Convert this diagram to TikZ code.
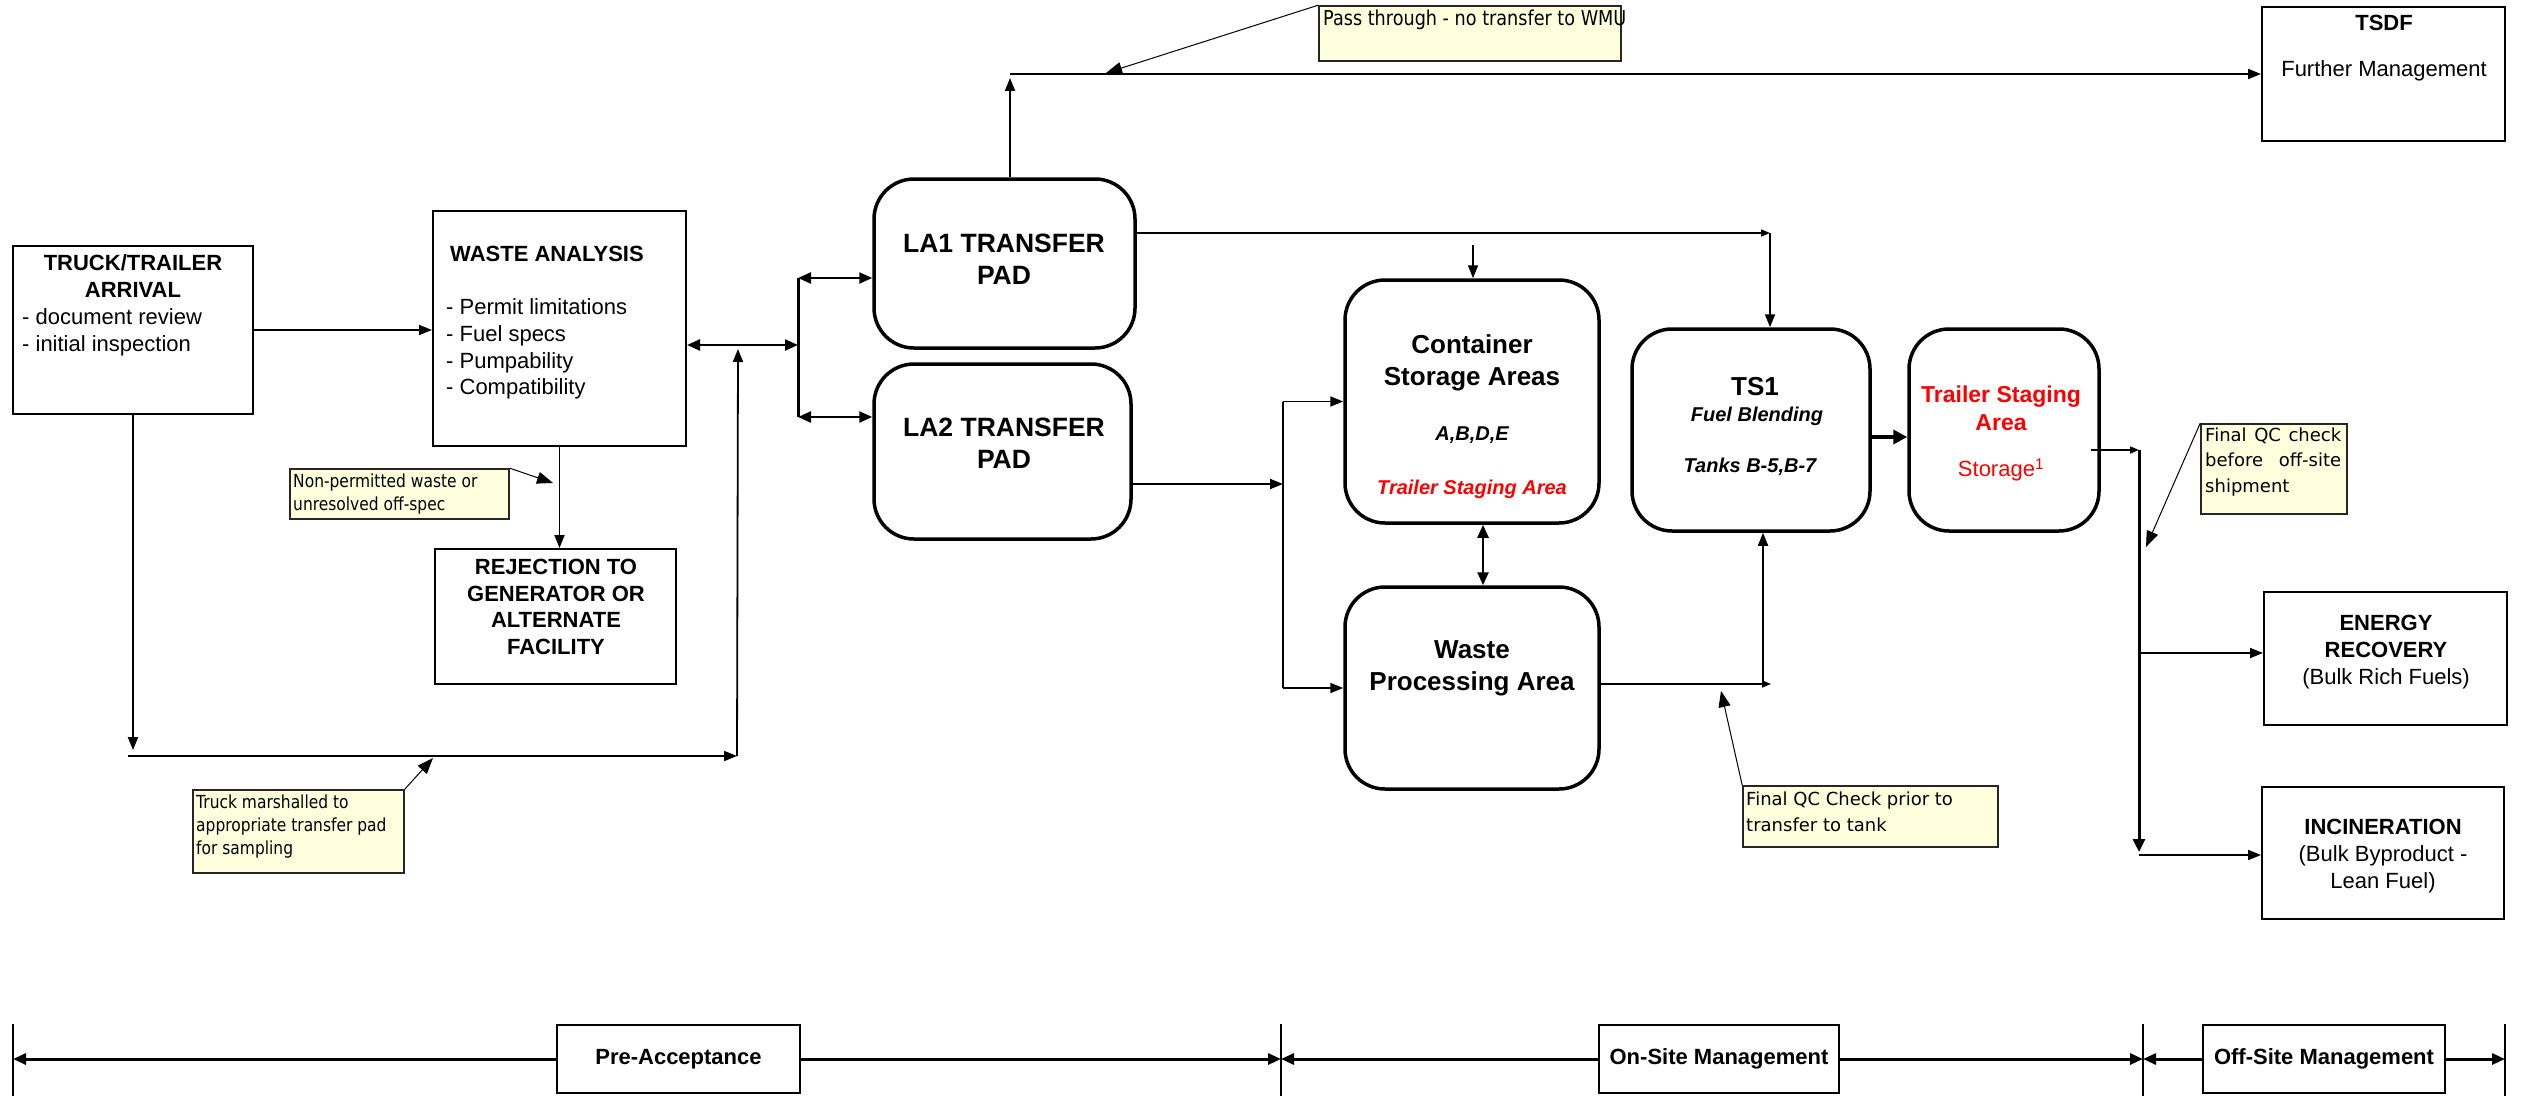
\documentclass[tikz,border=0pt]{standalone}
\usepackage{fontspec}
\setmainfont{Liberation Sans}
\newfontfamily\notefont{DejaVu Sans}
\newfontfamily\notecond[FakeStretch=0.86]{DejaVu Sans}
\usetikzlibrary{arrows.meta,calc}
\definecolor{notebg}{RGB}{255,255,221}
\tikzset{
  rbox/.style={draw, line width=3.5pt, rounded corners=40pt, inner sep=0pt},
  sbox/.style={draw, line width=2pt, inner sep=0pt},
  notebox/.style={draw=black!85, line width=1.6pt, fill=notebg, inner sep=0pt},
  conn/.style={line width=1.8pt, -{Triangle[length=13pt,width=10pt]}},
  dconn/.style={line width=2.4pt, {Triangle[length=13pt,width=11pt]}-{Triangle[length=13pt,width=11pt]}},
  sconn/.style={line width=1.5pt, -{Triangle[length=9pt,width=7pt]}},
  tconn/.style={line width=3.5pt, -{Triangle[length=14pt,width=14pt]}},
  busline/.style={line width=3pt},
  busconn/.style={line width=3pt, -{Triangle[length=13pt,width=12pt]}},
  callout/.style={line width=1pt, -{Triangle[length=16pt,width=12pt]}},
  bconn/.style={line width=3pt, -{Triangle[length=13pt,width=11pt]}},
  tick/.style={line width=2.5pt},
  txt/.style={inner sep=0pt, align=center},
  f22/.style={font=\fontsize{22}{26.7}\selectfont},
  f22b/.style={font=\fontsize{22}{26.7}\selectfont\bfseries},
  f25b/.style={font=\fontsize{26.5}{32}\selectfont\bfseries},
  f26b/.style={font=\fontsize{26}{32}\selectfont\bfseries},
  f20bi/.style={font=\fontsize{20}{24}\selectfont\bfseries\itshape},
  nfc/.style={font=\fontsize{18}{23}\selectfont\notecond, inner sep=0pt, align=left},
  nf/.style={font=\fontsize{18}{25.5}\selectfont\notefont, inner sep=0pt, align=left},
}
\begin{document}
\begin{tikzpicture}[x=1pt,y=-1pt]
\useasboundingbox (0,0) rectangle (2524,1097);

% ---------- boxes ----------
\node[sbox, minimum width=240pt, minimum height=168pt] (truck) at (133,330) {};
\node[sbox, minimum width=253pt, minimum height=235pt] (wa) at (559.5,328.5) {};
\node[sbox, minimum width=241pt, minimum height=135pt] (rej) at (555.5,616.5) {};
\node[rbox, minimum width=261pt, minimum height=169pt] (la1) at (1004.5,263.5) {};
\node[rbox, minimum width=257pt, minimum height=175pt] (la2) at (1002.5,451.5) {};
\node[rbox, minimum width=254pt, minimum height=243pt] (cont) at (1472,401.5) {};
\node[rbox, minimum width=254pt, minimum height=202pt] (wpa) at (1472,688) {};
\node[rbox, minimum width=238pt, minimum height=202pt] (ts1) at (1751,430) {};
\node[rbox, minimum width=190pt, minimum height=202pt] (trailer) at (2004,430) {};
\node[sbox, minimum width=243pt, minimum height=134pt] (tsdf) at (2383.5,74) {};
\node[sbox, minimum width=243pt, minimum height=133pt] (energy) at (2385.5,658.5) {};
\node[sbox, minimum width=242pt, minimum height=132pt] (incin) at (2383,853) {};

% ---------- box texts ----------
\node[txt, f22b] at (133,276) {TRUCK/TRAILER\\ARRIVAL};
\node[txt, f22, anchor=west, align=left] at (22,332) {- document review\\- initial inspection};
\node[txt, f22b, anchor=west] at (450,254) {WASTE ANALYSIS};
\node[txt, f22, anchor=west, align=left] at (446,349) {- Permit limitations\\- Fuel specs\\- Pumpability\\- Compatibility};
\node[txt, f22b] at (556,607) {REJECTION TO\\GENERATOR OR\\ALTERNATE\\FACILITY};
\node[txt, f25b] at (1004,259) {LA1 TRANSFER\\PAD};
\node[txt, f25b] at (1004,443) {LA2 TRANSFER\\PAD};
\node[txt, f26b] at (1472,363) {Container\\Storage Areas};
\node[txt, f20bi] at (1472,435) {A,B,D,E};
\node[txt, f20bi, text=red] at (1472,489) {Trailer Staging Area};
\node[txt, f26b] at (1472,668) {Waste\\Processing Area};
\node[txt, f26b] at (1755,387) {TS1};
\node[txt, f20bi] at (1757,416) {Fuel Blending};
\node[txt, f20bi] at (1750,467) {Tanks B-5,B-7};
\node[txt, font=\fontsize{23}{28}\selectfont\bfseries, text=red] at (2001,408) {Trailer Staging\\Area};
\node[txt, f22, text=red] at (2001,470) {Storage\textsuperscript{1}};
\node[txt, f22b] at (2384,23) {TSDF};
\node[txt, f22] at (2384,71) {Further Management};
\node[txt, f22] at (2386,652) {\textbf{ENERGY}\\\textbf{RECOVERY}\\(Bulk Rich Fuels)};
\node[txt, f22] at (2383,856) {\textbf{INCINERATION}\\(Bulk Byproduct -\\Lean Fuel)};

% ---------- notes ----------
\node[notebox, minimum width=302pt, minimum height=55pt] (passnote) at (1470,33.5) {};
\node[nfc, font=\fontsize{20.5}{24}\selectfont\notecond, anchor=north west] at (1323,10) {Pass through - no transfer to WMU};
\node[notebox, minimum width=219pt, minimum height=50pt] (nonperm) at (399.5,494) {};
\node[nfc, anchor=west] at (293,494.5) {Non-permitted waste or\\unresolved off-spec};
\node[notebox, minimum width=211pt, minimum height=83pt] (marsh) at (298.5,831.5) {};
\node[nfc, anchor=west] at (196,827) {Truck marshalled to\\appropriate transfer pad\\for sampling};
\node[notebox, minimum width=255pt, minimum height=61pt] (qc1) at (1870.5,816.5) {};
\node[nf, anchor=west] at (1746,812) {Final QC Check prior to\\transfer to tank};
\node[notebox, minimum width=146pt, minimum height=90pt] (qc2) at (2274,469) {};
\node[nf, anchor=west] at (2205,462) {\makebox[136pt][s]{Final QC check}\\\makebox[136pt][s]{before off-site}\\shipment};

% ---------- coordinates ----------
\coordinate (tdown) at (133,750);
\coordinate (mL) at (128,756);
\coordinate (mR) at (737,756);
\coordinate (mUp) at (738,349);
\coordinate (bj) at (798,345);
\coordinate (bt) at (798,278);
\coordinate (bb) at (798,417);
\coordinate (topT) at (1010,78);
\coordinate (topL) at (1010,74);
\coordinate (r1) at (1770,233);
\coordinate (cs) at (1473,245);
\coordinate (b2) at (1283,484);
\coordinate (b2t) at (1283,401.5);
\coordinate (b2b) at (1283,688);
\coordinate (w1) at (1771,684);
\coordinate (w2) at (1763,684);
\coordinate (ob) at (2139,450);
\coordinate (obb) at (2139,852);
\coordinate (obe) at (2139,653);
\coordinate (obi) at (2139,855);

% ---------- connectors ----------
\draw[conn] (truck.east) -- (truck.east -| wa.west);
\draw[conn] (truck.south) -- (tdown);
\draw[conn] (mL) -- (mR);
\draw[conn] (mR) -- (mUp);
\draw[dconn] (wa.east |- bj) -- (bj);
\draw[busline] (bt) -- (bb);
\draw[dconn] (bt) -- (bt -| la1.west);
\draw[dconn] (bb) -- (bb -| la2.west);
\draw[conn] (wa.south) -- (wa.south |- rej.north);
\draw[conn] (la1.north -| topT) -- (topT);
\draw[conn] (topL) -- (tsdf.west);
\draw[sconn] (la1.east |- r1) -- (r1);
\draw[conn] (r1) -- (r1 |- ts1.north);
\draw[conn] (cs) -- (cs |- cont.north);
\draw[conn] (la2.east |- b2) -- (b2);
\draw[line width=1.8pt] (b2t) -- (b2b);
\draw[conn] (b2t) -- (cont.west);
\draw[conn] (b2b) -- (wpa.west);
\draw[dconn] ([xshift=11pt]cont.south) -- ([xshift=11pt]wpa.north);
\draw[sconn] (wpa.east |- w1) -- (w1);
\draw[conn] (w2) -- (w2 |- ts1.south);
\draw[tconn] ([yshift=-7pt]ts1.east) -- ([yshift=-7pt]trailer.west);
\draw[sconn] ([xshift=-10pt,yshift=-20pt]trailer.east) -- (ob);
\draw[busconn] (ob) -- (obb);
\draw[conn] (obe) -- (obe -| energy.west);
\draw[conn] (obi) -- (obi -| incin.west);

% ---------- callouts ----------
\draw[callout] (passnote.north west) -- (1106,73);
\draw[callout] (nonperm.north east) -- (553,483);
\draw[callout] (marsh.north east) -- (433,758);
\draw[callout] (qc1.north west) -- (1721,691);
\draw[callout] (qc2.north west) -- (2146,547);

% ---------- bottom phase bar ----------
\node[sbox, fill=white, minimum width=243pt, minimum height=68pt, f22b] (pre) at (678.5,1059) {Pre-Acceptance};
\node[sbox, fill=white, minimum width=240pt, minimum height=68pt, f22b] (onsite) at (1719,1059) {On-Site Management};
\node[sbox, fill=white, minimum width=242pt, minimum height=68pt, f22b] (offsite) at (2324,1059) {Off-Site Management};
\coordinate (k1) at (13,1059);
\coordinate (k2) at (1281,1059);
\coordinate (k3) at (2143,1059);
\coordinate (k4) at (2505,1059);
\draw[tick] (13,1024) -- (13,1096);
\draw[tick] (1281,1024) -- (1281,1096);
\draw[tick] (2143,1024) -- (2143,1096);
\draw[tick] (2505,1024) -- (2505,1096);
\draw[bconn] (pre.west) -- (k1);
\draw[bconn] (pre.east) -- (k2);
\draw[bconn] (onsite.west) -- (k2);
\draw[bconn] (onsite.east) -- (k3);
\draw[bconn] (offsite.west) -- (k3);
\draw[bconn] (offsite.east) -- (k4);
\end{tikzpicture}
\end{document}
